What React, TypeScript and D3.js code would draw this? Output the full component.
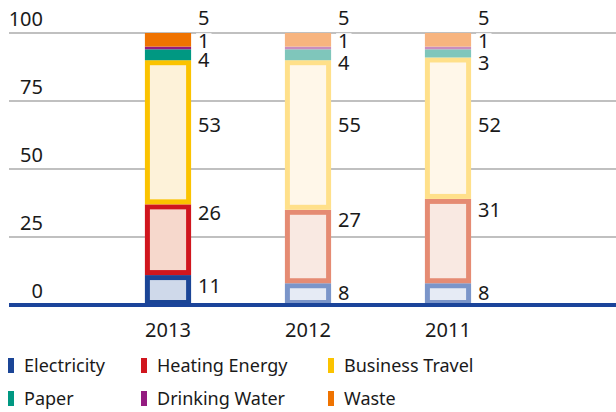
import React from "react";
import * as d3 from "d3";

const years = ["2013", "2012", "2011"];
const seriesNames = ["Electricity", "Heating Energy", "Business Travel", "Paper", "Drinking Water", "Waste"];
const electricity = [11, 8, 8];
const heating = [26, 27, 31];
const travel = [53, 55, 52];
const paper = [4, 4, 3];
const water = [1, 1, 1];
const waste = [5, 5, 5];
// label baselines in value units
const electricityLabelAt = [4.4, 1.8, 1.8];
const heatingLabelAt = [31.2, 28.6, 32.3];
const travelLabelAt = [63.5, 63.5, 63.5];
const paperLabelAt = [87.4, 86.3, 86.3];
const waterLabelAt = [94.4, 94.4, 94.4];
const wasteLabelAt = [102.8, 102.8, 102.8];
const yTicks = [0, 25, 50, 75, 100];

const strongStroke = ["#1b4596", "#d0161e", "#fbc300", "#009882", "#941b80", "#ef7300"];
const strongFill = ["#cfd9ea", "#f6d8cc", "#fdf2d9", "#009882", "#941b80", "#ef7300"];
const lightStroke = ["#7b95c9", "#e58b73", "#ffe08a", "#7fc6bb", "#c98dbf", "#f7b47f"];
const lightFill = ["#e6ebf5", "#f9e9e2", "#fff7e9", "#7fc6bb", "#c98dbf", "#f7b47f"];
const outlined = [true, true, true, false, false, false];

const W = 616, H = 412;
const FONT = "'Noto Sans', 'Open Sans', sans-serif";

export default function App() {
  const values = [electricity, heating, travel, paper, water, waste];
  const labelAt = [electricityLabelAt, heatingLabelAt, travelLabelAt, paperLabelAt, waterLabelAt, wasteLabelAt];
  const x = d3.scaleBand<string>().domain(years).range([98, 518]).paddingInner(0.67).paddingOuter(0.335);
  const y = d3.scaleLinear().domain([0, 100]).range([305, 33]);
  const bw = x.bandwidth();
  const sw = 5;

  const segs: any[] = [];
  const labels: any[] = [];
  years.forEach((yr, i) => {
    let cum = 0;
    values.forEach((arr, s) => {
      const v = arr[i];
      const y0 = y(cum), y1 = y(cum + v);
      cum += v;
      const light = i > 0;
      const stroke = light ? lightStroke[s] : strongStroke[s];
      const fill = light ? lightFill[s] : strongFill[s];
      const bx = x(yr)!;
      if (outlined[s]) {
        segs.push(
          <rect key={`s${i}-${s}`} x={bx + sw / 2} y={y1 + sw / 2} width={bw - sw} height={y0 - y1 - sw}
            fill={fill} stroke={stroke} strokeWidth={sw} />
        );
      } else {
        segs.push(<rect key={`s${i}-${s}`} x={bx} y={y1} width={bw} height={y0 - y1} fill={fill} />);
      }
      const txt = String(v);
      const lx = bx + bw + 7;
      const ly = y(labelAt[s][i]);
      const tw = txt.length * 11.4;
      labels.push(
        <g key={`l${i}-${s}`}>
          <rect x={lx - 2} y={ly - 15} width={tw + 4} height={17} fill="#fff" />
          <text x={lx} y={ly} fontSize={20} fill="#1a1a1a" fontFamily={FONT}>{txt}</text>
        </g>
      );
    });
  });

  const legendCols = [8, 141, 328];
  const legendRows = [372, 405];

  return (
    <svg width={W} height={H} style={{ position: "absolute", left: 0, top: 0, background: "#fff" }}>
      {yTicks.filter(t => t > 0).map(t => (
        <line key={`g${t}`} x1={9} x2={W} y1={y(t)} y2={y(t)} stroke="#c0c0c0" strokeWidth={2} />
      ))}
      {yTicks.map(t => (
        <text key={`t${t}`} x={43} y={y(t) - 7} textAnchor="end" fontSize={20} fill="#1a1a1a" fontFamily={FONT}>{t}</text>
      ))}
      {segs}
      <line x1={9} x2={W} y1={y(0)} y2={y(0)} stroke="#1b449a" strokeWidth={4} />
      {labels}
      {years.map(yr => (
        <text key={`c${yr}`} x={x(yr)! + bw / 2} y={337} textAnchor="middle" fontSize={20} fill="#1a1a1a" fontFamily={FONT}>{yr}</text>
      ))}
      {seriesNames.map((name, s) => {
        const col = s % 3, row = Math.floor(s / 3);
        const lx = legendCols[col], ly = legendRows[row];
        return (
          <g key={`lg${s}`}>
            <rect x={lx} y={ly - 14} width={6} height={15} fill={strongStroke[s]} />
            <text x={lx + 16} y={ly} fontSize={18} fill="#1a1a1a" fontFamily={FONT}>{name}</text>
          </g>
        );
      })}
    </svg>
  );
}
